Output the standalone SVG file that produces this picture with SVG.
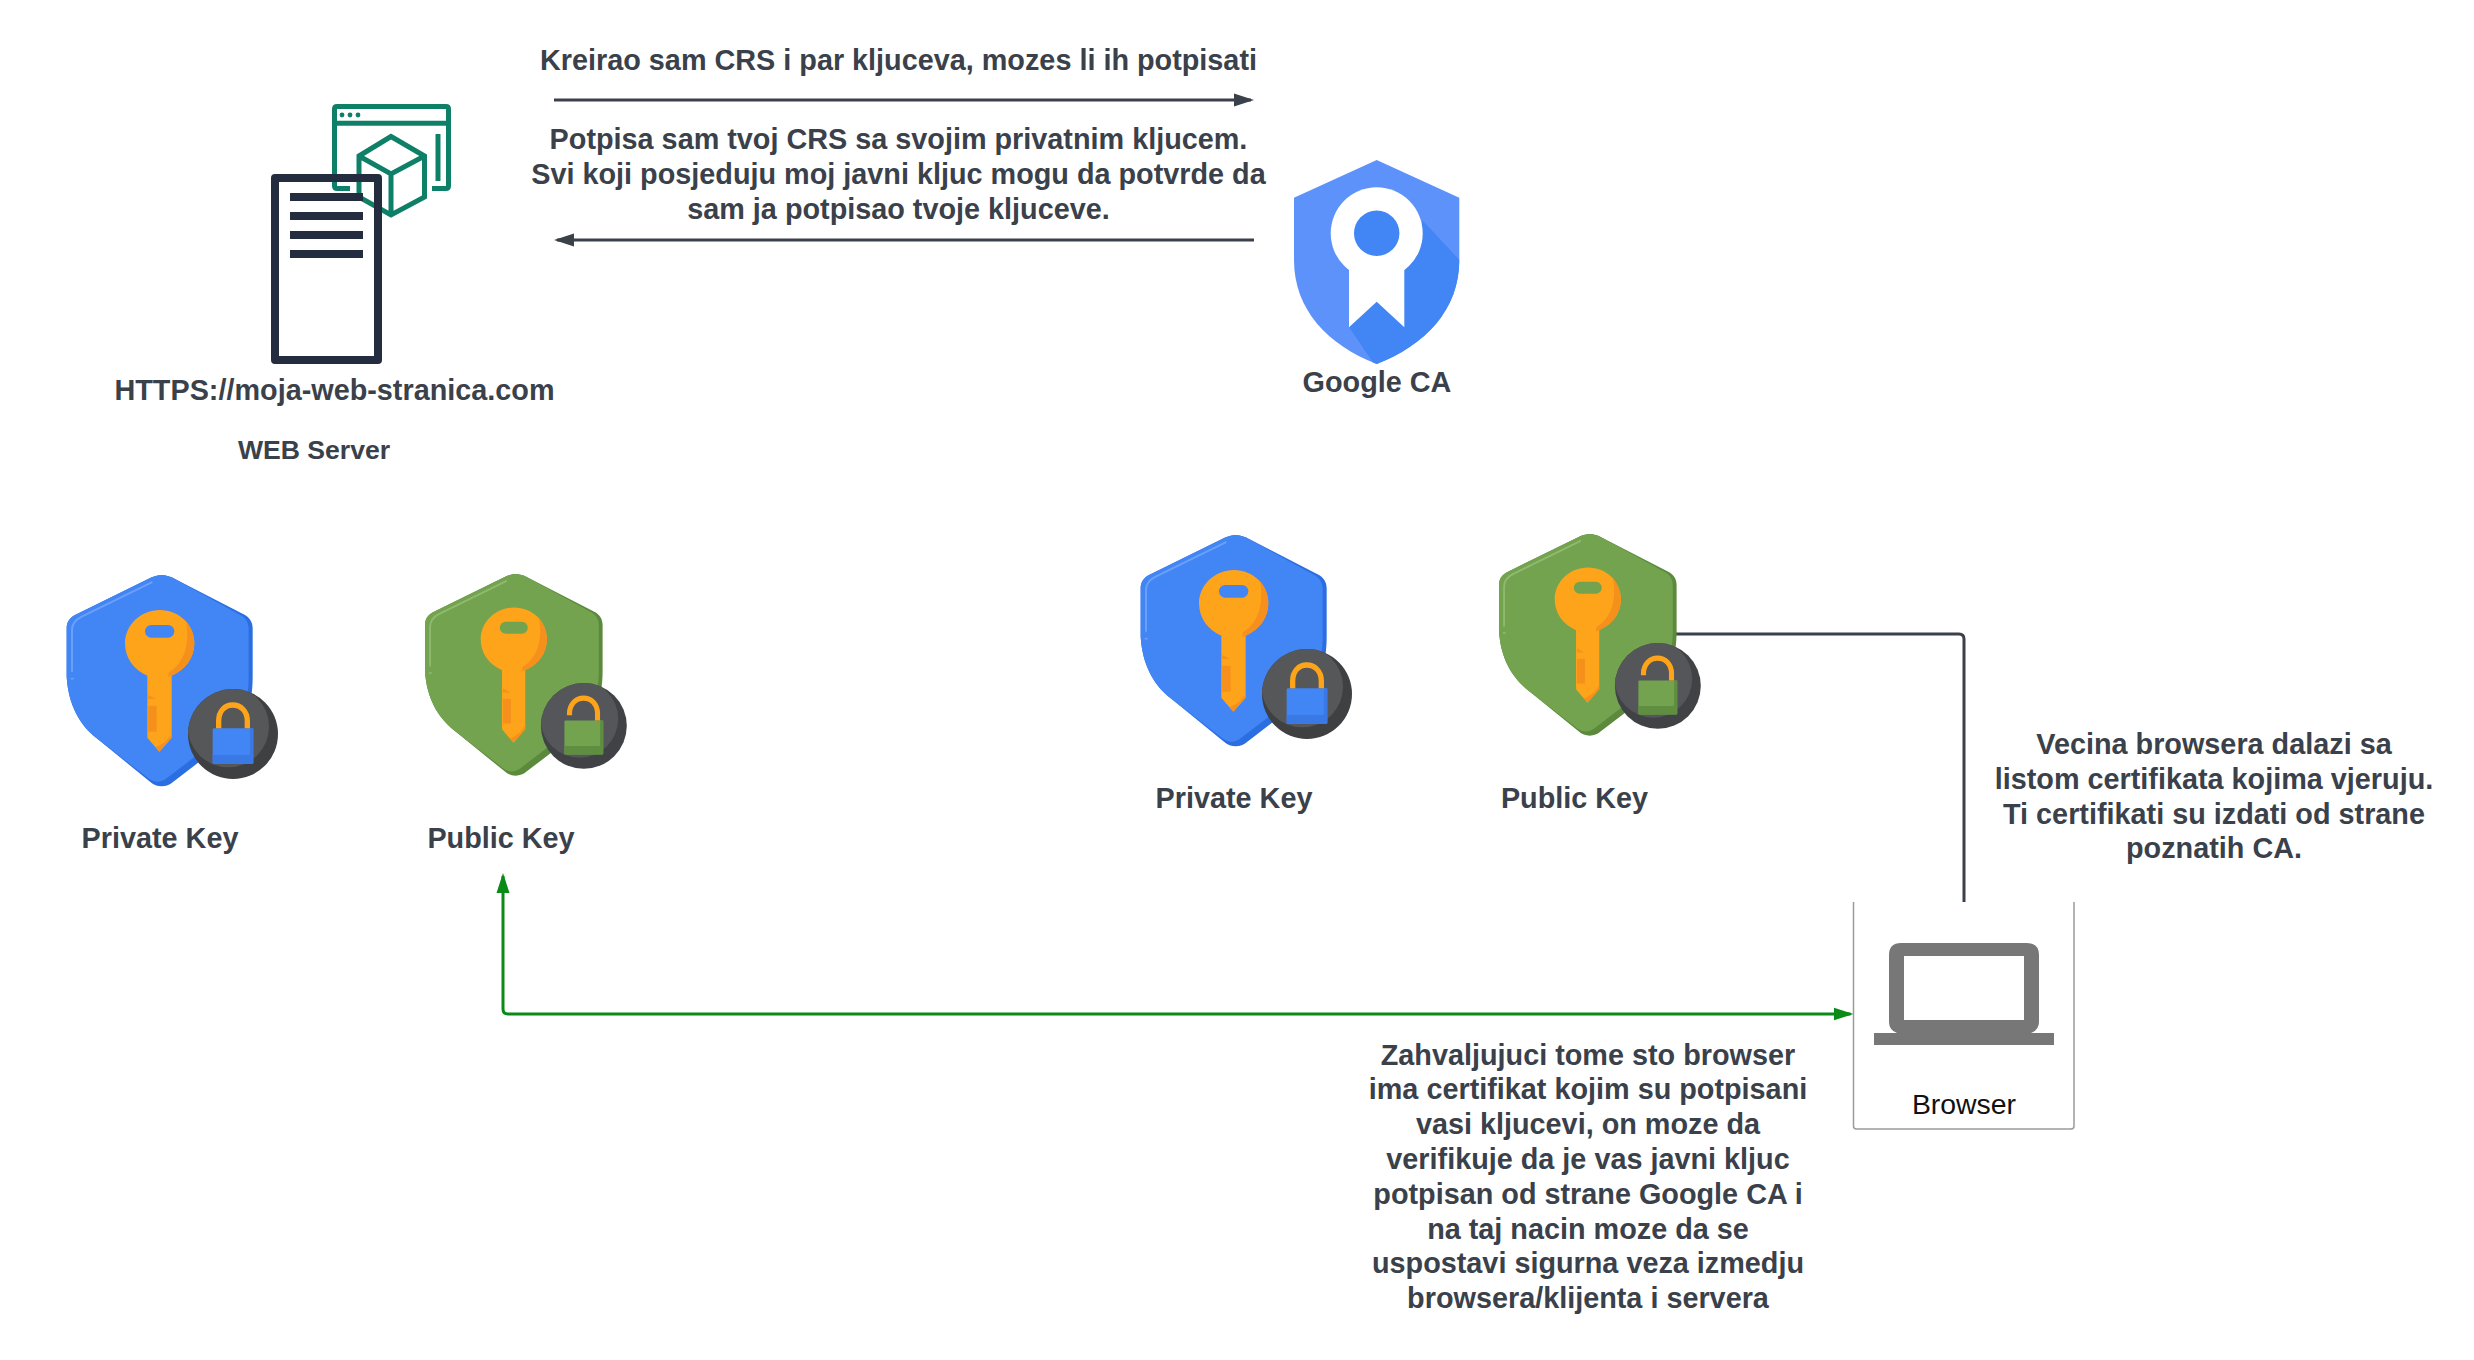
<svg xmlns="http://www.w3.org/2000/svg" xmlns:xlink="http://www.w3.org/1999/xlink" width="2474" height="1360" viewBox="0 0 2474 1360">
<style>
text{font-family:"Liberation Sans",Arial,sans-serif;font-weight:700;font-size:28.8px;fill:#3a414a;text-anchor:middle}
.small{font-size:26.6px}
.plain{font-weight:400;fill:#111;font-size:28.4px}
.conn{fill:none;stroke:#3a414a;stroke-width:3}
.green-conn{fill:none;stroke:#0a8a16;stroke-width:3}
.teal{fill:none;stroke:#0f8068;stroke-width:5}
.navy{fill:#232d3f}
.blue{--main:#4285f4;--dark:#2a6ee2;--hi:#6ba0f9;--band:#3a78e6;--lock1:#565759;--lock2:#3f4042}
.green{--main:#73a34f;--dark:#5c8a3d;--hi:#8fb96f;--band:#5f8e40;--lock1:#55565a;--lock2:#414246}
</style>
<defs>
<marker id="headDark" markerUnits="userSpaceOnUse" markerWidth="20" markerHeight="14" refX="17" refY="7" orient="auto-start-reverse"><path d="M0 0.5L20 7L0 13.5Z" fill="#3a414a"/></marker>
<marker id="headGreen" markerUnits="userSpaceOnUse" markerWidth="20" markerHeight="14" refX="17" refY="7" orient="auto-start-reverse"><path d="M0 0.5L20 7L0 13.5Z" fill="#0a8a16"/></marker>
<clipPath id="lockClip"><circle cx="519" cy="507" r="135"/></clipPath>
<clipPath id="caClip"><path id="caShape" d="M1376.7 160L1459.3 197.7V260C1459.3 310 1425 345 1376.7 364C1328 345 1294 310 1294 260V197.7Z"/></clipPath>
<g id="keyShield">
<path fill="var(--dark)" d="M305 30C295 30 285 33 275 37L45 150C30 158 20 170 20 190V335C25 420 60 480 110 520L270 650C290 668 320 668 340 650L510 520C560 475 578 410 578 335V190C578 170 568 158 555 150L335 37C325 33 315 30 305 30Z"/>
<path fill="var(--main)" d="M305 30C295 30 285 33 275 37L45 150C30 158 20 170 20 190V335C25 420 60 480 110 520L265 640C285 655 305 652 320 640L490 510C545 465 566 410 566 335V190C566 175 558 160 545 152L335 37C325 33 315 30 305 30Z"/>
<path fill="none" stroke="var(--hi)" stroke-width="6" stroke-linecap="round" d="M275 52L65 155C45 165 36 178 36 195V318"/>
<path fill="none" stroke="var(--hi)" stroke-width="5" d="M32 341H41"/>
<path fill="#fea41b" d="M300 135C358 135 403 180 403 235C403 280 375 315 335 332V518L298 560L262 518V332C222 315 195 280 195 235C195 180 242 135 300 135Z"/>
<path fill="#f6901c" d="M378 168C395 188 403 210 403 235C403 280 375 315 335 332L325 336L326 322C365 300 392 250 378 168Z"/>
<path fill="#f6901c" d="M335 505V518L298 560L288 546C308 538 325 525 335 505Z"/>
<path fill="#f6901c" d="M265 422H290V500H265ZM265 390L288 402H265Z"/>
<rect x="255" y="180" width="88" height="38" rx="19" fill="var(--main)"/>
<circle cx="519" cy="507" r="135" fill="var(--lock2)"/>
<circle cx="505" cy="485" r="122" fill="var(--lock1)" clip-path="url(#lockClip)"/>
<rect x="458" y="490" width="122" height="107" rx="4" fill="var(--main)"/>
<path fill="var(--band)" d="M570 490H580V593Q580 597 576 597H462Q458 597 458 593V570H566Q570 570 570 566Z"/>
</g>
<g id="keyClosed">
<use href="#keyShield"/>
<path fill="none" stroke="#fea41b" stroke-width="16" d="M476 490V468C476 438 495 420 518 420C542 420 562 438 562 468V490"/>
</g>
<g id="keyOpen">
<use href="#keyShield"/>
<path fill="none" stroke="#fea41b" stroke-width="16" d="M474 474V468C474 438 495 420 518 420C542 420 562 438 562 468V490"/>
</g>
</defs>
<rect width="2474" height="1360" fill="#fff"/>

<g id="connectors">
<path class="conn" marker-end="url(#headDark)" d="M554 100H1251"/>
<path class="conn" marker-end="url(#headDark)" d="M1254 240H557"/>
<path class="conn" d="M1676 634H1959Q1964 634 1964 639V902"/>
<path class="green-conn" marker-start="url(#headGreen)" marker-end="url(#headGreen)" d="M503 876V1009Q503 1014 508 1014H1850.5"/>
</g>

<g id="web-server">
<path class="teal" d="M350 188.5H337Q334.5 188.5 334.5 186V109Q334.5 106.5 337 106.5H446Q448.5 106.5 448.5 109V186Q448.5 188.5 446 188.5H432"/>
<path class="teal" d="M334.5 123.3H448.5"/>
<circle cx="342" cy="115" r="2.4" fill="#0f8068"/><circle cx="350" cy="115" r="2.4" fill="#0f8068"/><circle cx="358" cy="115" r="2.4" fill="#0f8068"/>
<path class="teal" d="M438 134V181"/>
<path class="teal" d="M391 136.5L424.5 156V197L391 215L359 197V156ZM359 156L391 174L424.5 156M391 174V215"/>
<path class="navy" fill-rule="evenodd" d="M275 174H378Q382 174 382 178V360Q382 364 378 364H275Q271 364 271 360V178Q271 174 275 174ZM279 182V356H374V182Z"/>
<rect class="navy" x="290" y="193" width="73" height="8"/>
<rect class="navy" x="290" y="212" width="73" height="8"/>
<rect class="navy" x="290" y="231" width="73" height="8"/>
<rect class="navy" x="290" y="250" width="73" height="8"/>
<text x="334.5" y="400">HTTPS://moja-web-stranica.com</text>
<text class="small" x="314" y="459">WEB Server</text>
</g>

<g id="request-label"><text x="898.5" y="70">Kreirao sam CRS i par kljuceva, mozes li ih potpisati</text></g>
<g id="response-label">
<text x="898.5" y="149">Potpisa sam tvoj CRS sa svojim privatnim kljucem.</text>
<text x="898.5" y="183.8">Svi koji posjeduju moj javni kljuc mogu da potvrde da</text>
<text x="898.5" y="218.6">sam ja potpisao tvoje kljuceve.</text>
</g>

<g id="google-ca">
<path fill="#5c92f9" d="M1376.7 160L1459.3 197.7V260C1459.3 310 1425 345 1376.7 364C1328 345 1294 310 1294 260V197.7Z"/>
<path fill="#4285f4" clip-path="url(#caClip)" d="M1423 221L1465 266V370H1378L1349 327L1404 270Z"/>
<circle cx="1376.7" cy="233.3" r="46" fill="#fff"/>
<path fill="#fff" d="M1349 262H1404.3V327.3L1376.7 301.7L1349 327.3Z"/>
<circle cx="1376.7" cy="233.3" r="22.7" fill="#4285f4"/>
<text x="1377" y="392">Google CA</text>
</g>

<g id="private-key-server">
<use href="#keyClosed" class="blue" transform="translate(60 565) scale(.33333)"/>
<text x="160" y="848">Private Key</text>
</g>
<g id="public-key-server">
<use href="#keyOpen" class="green" transform="translate(418.63 564.47) scale(.3183)"/>
<text x="501" y="848">Public Key</text>
</g>
<g id="private-key-ca">
<use href="#keyClosed" class="blue" transform="translate(1134 525) scale(.33333)"/>
<text x="1234" y="807.5">Private Key</text>
</g>
<g id="public-key-ca">
<use href="#keyOpen" class="green" transform="translate(1492.63 524.47) scale(.3183)"/>
<text x="1574.5" y="807.5">Public Key</text>
</g>

<g id="browser">
<path fill="none" stroke="#9a9a9a" stroke-width="1.5" d="M1853.5 902V1126Q1853.5 1129 1856.5 1129H2071Q2074 1129 2074 1126V902"/>
<path fill="#777" fill-rule="evenodd" d="M1901 943H2027Q2039 943 2039 955V1022Q2039 1030 2031 1033H2054V1045H1874V1033H1897Q1889 1030 1889 1022V955Q1889 943 1901 943ZM1904 956V1020H2024V956Z"/>
<text class="plain" x="1964" y="1114">Browser</text>
</g>

<g id="browser-note">
<text x="2214" y="754">Vecina browsera dalazi sa</text>
<text x="2214" y="788.8">listom certifikata kojima vjeruju.</text>
<text x="2214" y="823.6">Ti certifikati su izdati od strane</text>
<text x="2214" y="858.4">poznatih CA.</text>
</g>

<g id="verification-note">
<text x="1588" y="1064.5">Zahvaljujuci tome sto browser</text>
<text x="1588" y="1099.3">ima certifikat kojim su potpisani</text>
<text x="1588" y="1134.1">vasi kljucevi, on moze da</text>
<text x="1588" y="1168.9">verifikuje da je vas javni kljuc</text>
<text x="1588" y="1203.7">potpisan od strane Google CA i</text>
<text x="1588" y="1238.5">na taj nacin moze da se</text>
<text x="1588" y="1273.3">uspostavi sigurna veza izmedju</text>
<text x="1588" y="1308.1">browsera/klijenta i servera</text>
</g>
</svg>
